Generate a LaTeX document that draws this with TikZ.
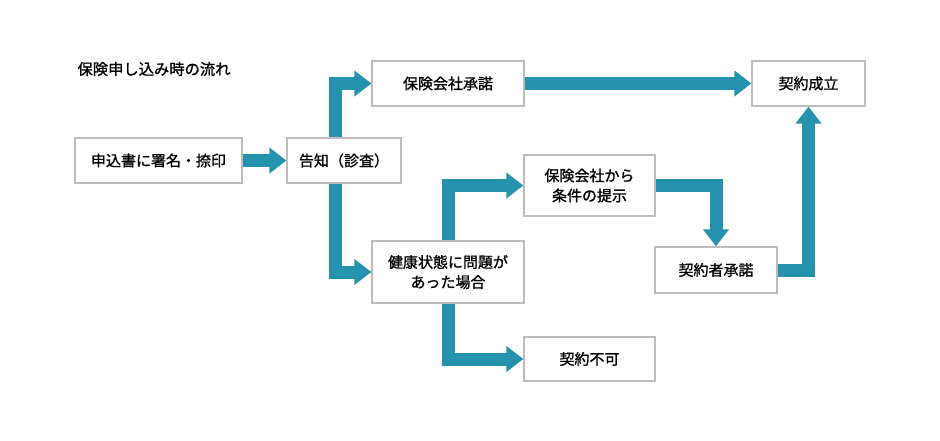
\documentclass[tikz,border=0pt]{standalone}
\usepackage{fontspec}
\setmainfont{Noto Sans CJK JP}[FakeBold=1.2]
\usepackage{xcolor}
\usetikzlibrary{positioning,arrows.meta,calc}
\definecolor{flowteal}{HTML}{2593AE}
\definecolor{boxgray}{HTML}{BDBDBD}

\begin{document}
\begin{tikzpicture}[
		x=1pt, y=-1pt,
		font=\fontsize{15}{20}\selectfont,
		box/.style={draw=boxgray, line width=1.3pt, fill=white, align=center,
				inner sep=0pt, minimum height=45pt},
		flow/.style={draw=flowteal, line width=13pt, line join=miter,
				-{Triangle[width=25pt, length=17pt]}}
		]
		\useasboundingbox (0,0) rectangle (940,441);
		\node[anchor=west, font=\fontsize{15.3}{20}\selectfont] (title) at (74,69) {保険申し込み時の流れ};
		\node[box, minimum width=167pt] (apply) at (158.5,160.5) {申込書に署名・捺印};
		\node[box, minimum width=114pt] (notice) at (344,160.5) {告知（診査）};
		\node[box, minimum width=152pt] (accept) at (448,83.5) {保険会社承諾};
		\node[box, minimum width=113pt] (contract) at (808.5,83.5) {契約成立};
		\node[box, minimum width=131pt, minimum height=61pt] (offer) at (589.5,185.5)
		{保険会社から\\条件の提示};
		\node[box, minimum width=152pt, minimum height=62pt] (health) at (448,272)
		{健康状態に問題が\\あった場合};
		\node[box, minimum width=131pt, minimum height=44pt] (reject) at (589.5,359) {契約不可};
		\node[box, minimum width=122pt, minimum height=46pt] (consent) at (716,270) {契約者承諾};
		% connectors
		\draw[flow] (apply.east) -- (notice.west);
		\draw[flow] ([xshift=-8.5pt]notice.north) |- (accept.west);
		\draw[flow] ([xshift=-8.5pt]notice.south) |- (health.west);
		\draw[flow] (accept.east) -- (contract.west);
		\draw[flow] (health.north) |- (offer.west);
		\draw[flow] (health.south) |- (reject.west);
		\draw[flow] (offer.east) -| (consent.north);
		\draw[flow] (consent.east) -| (contract.south);
	\end{tikzpicture}
\end{document}
